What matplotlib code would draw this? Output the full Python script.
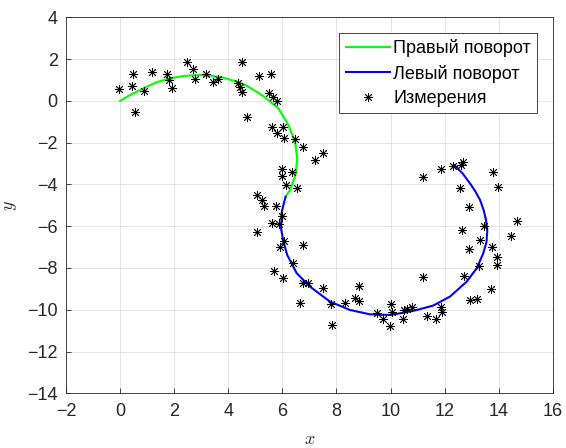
import matplotlib
matplotlib.use("Agg")
import matplotlib.pyplot as plt

# Right turn (green) path
right_x = [0.00, 0.37, 0.86, 1.35, 1.85, 2.34, 2.83, 3.32, 3.82, 4.31, 4.68,
           5.24, 5.85, 6.22, 6.47, 6.55, 6.49, 6.28, 6.12]
right_y = [0.00, 0.28, 0.60, 0.89, 1.08, 1.19, 1.24, 1.21, 1.11, 0.92, 0.73,
           0.28, -0.35, -1.15, -1.95, -2.75, -3.55, -4.27, -4.59]

# Left turn (blue) path
left_x = [6.12, 5.98, 5.95, 6.04, 6.18, 6.53, 7.02, 7.76, 8.50, 9.24, 9.98,
          10.35, 10.95, 11.58, 12.20, 12.82, 13.19, 13.43, 13.55, 13.58, 13.53,
          13.45, 13.31, 13.13, 12.94, 12.65, 12.35]
left_y = [-4.59, -5.30, -6.10, -6.74, -7.38, -8.25, -8.89, -9.61, -10.01, -10.22, -10.25,
          -10.17, -10.02, -9.80, -9.37, -8.65, -8.01, -7.30, -6.75, -6.20, -5.70,
          -5.25, -4.74, -4.32, -3.95, -3.45, -3.07]

# Measurements
meas_x = [-0.03, 0.47, 0.43, 0.55, 0.90, 1.17, 1.75, 1.82, 1.91, 2.49,
          2.68, 2.77, 3.17, 3.45, 3.63, 4.37, 4.43, 4.52, 4.51, 4.68,
          5.15, 5.58, 5.52, 5.67, 5.79, 5.61, 6.04, 5.81, 6.06, 6.47,
          6.78, 7.52, 7.21, 6.00, 6.00, 6.37, 6.12, 6.53, 5.05, 5.26,
          5.33, 5.77, 5.98, 5.63, 5.88, 5.05, 6.07, 6.78, 5.91, 6.38,
          5.70, 6.04, 6.75, 6.96, 7.52, 8.85, 6.65, 7.80, 8.32, 8.69,
          8.85, 7.85, 9.49, 9.73, 10.02, 10.07, 9.98, 10.50, 10.60, 10.78,
          10.47, 11.21, 11.36, 11.68, 11.86, 11.89, 11.21, 11.87, 12.32, 12.61,
          12.69, 13.80, 12.57, 13.99, 12.90, 14.67, 13.47, 12.63, 14.46, 13.31,
          12.90, 13.74, 13.95, 13.95, 13.27, 12.72, 13.71, 12.94, 13.21]
meas_y = [0.56, 1.27, 0.71, -0.52, 0.47, 1.40, 1.27, 1.00, 0.60, 1.86,
          1.51, 1.06, 1.29, 0.90, 1.05, 0.87, 0.65, 0.44, 1.86, -0.76,
          1.20, 1.27, 0.39, 0.20, 0.01, -1.27, -1.27, -1.55, -1.79, -1.81,
          -2.19, -2.51, -2.83, -3.27, -3.60, -3.42, -4.03, -4.19, -4.50, -4.74,
          -5.03, -5.02, -5.49, -5.83, -5.89, -6.26, -6.69, -6.90, -6.98, -7.77,
          -8.13, -8.49, -8.73, -8.73, -8.97, -8.86, -9.69, -9.74, -9.69, -9.42,
          -9.58, -10.73, -10.17, -10.44, -9.72, -10.09, -10.76, -10.01, -9.96, -9.85,
          -10.44, -8.44, -10.28, -10.44, -9.85, -10.09, -3.63, -3.28, -3.10, -3.07,
          -2.91, -3.39, -4.19, -4.14, -5.09, -5.75, -5.99, -6.18, -6.45, -6.66,
          -7.09, -6.98, -7.46, -7.86, -7.89, -8.37, -9.00, -9.53, -9.48]

x_ticks = list(range(-2, 17, 2))
y_ticks = list(range(-14, 5, 2))

plt.rcParams['font.family'] = ['Liberation Sans', 'DejaVu Sans']
plt.rcParams['mathtext.fontset'] = 'cm'

dark = '#262626'
fig = plt.figure(figsize=(5.66, 4.48), dpi=100)
ax = fig.add_axes([0.1166, 0.1221, 0.860, 0.8393])

ax.plot(right_x, right_y, color=(0, 1, 0), linewidth=1.5, label='Правый поворот')
ax.plot(left_x, left_y, color=(0, 0, 1), linewidth=1.5, label='Левый поворот')
ax.plot(meas_x, meas_y, linestyle='none', marker=(8, 2, 0), markersize=6.5,
        markeredgewidth=0.6, color='black', label='Измерения')

ax.set_xlim(-2, 16)
ax.set_ylim(-14, 4)
ax.set_xticks(x_ticks)
ax.set_yticks(y_ticks)
ax.grid(True, color='#dfdfdf', linewidth=0.6)
ax.set_axisbelow(True)
ax.tick_params(direction='in', length=3.5, width=0.6, colors=dark,
               labelsize=13, top=False, right=False)
ax.tick_params(axis='x', pad=7)
ax.tick_params(axis='y', pad=6)
for s in ax.spines.values():
    s.set_color(dark)
    s.set_linewidth(0.6)

ax.set_xlabel('$x$', fontsize=13, labelpad=8, color=dark)
ax.set_ylabel('$y$', fontsize=13, labelpad=6, color=dark)

leg = ax.legend(loc='upper right', fontsize=13, fancybox=False, framealpha=1,
                edgecolor=dark, borderaxespad=0.85, handlelength=2.45,
                handletextpad=0.2, borderpad=0.35, labelspacing=0.42, numpoints=1)
leg.get_frame().set_linewidth(0.6)

fig.savefig('out.png', dpi=100)
